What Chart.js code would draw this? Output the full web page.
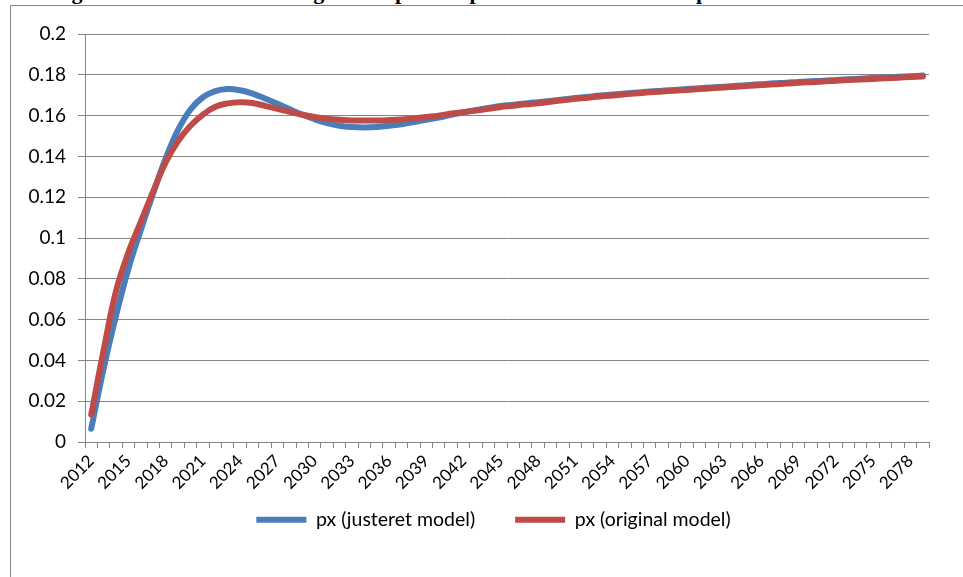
<!DOCTYPE html>
<html>
<head>
<meta charset="utf-8">
<script src="https://cdn.jsdelivr.net/npm/chart.js@4"></script>
<style>
  html, body { margin: 0; padding: 0; background: #fff; overflow: hidden; }
  body { width: 963px; height: 577px; position: relative; }
  #caption { position: absolute; left: 52px; top: -21px; font: bold 22px "Liberation Serif", serif; white-space: nowrap; color: #000; }
  #frame { position: absolute; left: 10px; top: 5px; width: 1000px; height: 620px; border: 1px solid #868686; }
  #px-chart { position: absolute; left: 0; top: 0; }
</style>
</head>
<body>
<div id="caption">Figur 6: Den totale udvikling i alt af px med px for hele den samlede periode</div>
<div id="frame"></div>
<canvas id="px-chart" width="963" height="577"></canvas>
<script>
// years 2012..2079, labels every 3rd year
const years = [];
for (let y = 2012; y <= 2079; y++) years.push(String(y));

const justeret = [
  0.0065, 0.036, 0.062, 0.085, 0.104, 0.122, 0.139, 0.153, 0.163, 0.169,
  0.172, 0.173, 0.1724, 0.1708, 0.1684, 0.1658, 0.1631, 0.1605, 0.1582, 0.1563,
  0.155, 0.1544, 0.1542, 0.1544, 0.155, 0.1558, 0.1568, 0.158, 0.159, 0.1604,
  0.1616, 0.1627, 0.1637, 0.1647, 0.1653, 0.1660, 0.1666, 0.1672, 0.1679, 0.1686,
  0.1692, 0.1698, 0.1703, 0.1708, 0.1713, 0.1718, 0.1722, 0.1726, 0.1730, 0.1734,
  0.1738, 0.1742, 0.1746, 0.1750, 0.1754, 0.1758, 0.1761, 0.1765, 0.1768, 0.1771,
  0.1775, 0.1778, 0.1781, 0.1784, 0.1787, 0.1790, 0.1793, 0.1796
];

const original = [
  0.0134, 0.045, 0.074, 0.093, 0.108, 0.123, 0.137, 0.1475, 0.155, 0.1605,
  0.1643, 0.166, 0.1666, 0.1662, 0.1648, 0.1633, 0.1619, 0.1604, 0.1593, 0.1585,
  0.158, 0.1576, 0.1576, 0.1576, 0.1578, 0.1581, 0.1586, 0.1593, 0.160, 0.161,
  0.1617, 0.1625, 0.1633, 0.1642, 0.1648, 0.1655, 0.1660, 0.1668, 0.1675, 0.1682,
  0.1688, 0.1694, 0.1699, 0.1704, 0.1709, 0.1714, 0.1718, 0.1722, 0.1726, 0.1730,
  0.1734, 0.1738, 0.1742, 0.1746, 0.1750, 0.1754, 0.1757, 0.1761, 0.1764, 0.1767,
  0.1771, 0.1774, 0.1777, 0.1780, 0.1783, 0.1786, 0.1789, 0.1792
];

const seriesNames = ['px (justeret model)', 'px (original model)'];

const gridGrey = '#868686';
const font = { family: 'Lato', size: 19 };
const xFont = { family: 'Lato', size: 17 };

// move the legend so it sits where the original had it
const legendPlace = {
    id: 'legendPlace',
    afterLayout(chart) {
        const lg = chart.legend;
        if (!lg) return;
        lg.left += 24; lg.right += 24;
        lg.top -= 20; lg.bottom = chart.height;
    }
};

const ctx = document.getElementById('px-chart').getContext('2d');

new Chart(ctx, {
    type: 'line',
    data: {
        labels: years,
        datasets: [{
            label: seriesNames[0],
            data: justeret,
            borderColor: '#4A7EBB',
            backgroundColor: '#4A7EBB',
            borderWidth: 6,
            order: 2
        }, {
            label: seriesNames[1],
            data: original,
            borderColor: '#BE4B48',
            backgroundColor: '#BE4B48',
            borderWidth: 6,
            order: 1
        }]
    },
    options: {
        responsive: false,
        animation: false,
        layout: {
            padding: { left: 10, right: 34, top: 34, bottom: 38 }
        },
        elements: {
            point: { radius: 0 },
            line: { tension: 0.4, fill: false, borderCapStyle: 'round', borderJoinStyle: 'round' }
        },
        scales: {
            x: {
                offset: true,
                grid: { offset: true, drawOnChartArea: false, drawTicks: true, tickLength: 6, color: gridGrey },
                border: { color: gridGrey },
                ticks: {
                    autoSkip: false,
                    maxRotation: 45,
                    minRotation: 45,
                    color: '#000',
                    font: xFont,
                    callback: (v, i) => i % 3 === 0 ? years[i] : ''
                },
                afterFit: s => { s.height = 48; }
            },
            y: {
                min: 0,
                max: 0.2,
                grid: { color: gridGrey, tickLength: 7 },
                border: { color: gridGrey },
                ticks: {
                    stepSize: 0.02,
                    padding: 12,
                    color: '#000',
                    font: font,
                    callback: v => String(Math.round(v * 100) / 100)
                },
                afterFit: s => { s.width = 75; }
            }
        },
        plugins: {
            legend: {
                position: 'bottom',
                maxHeight: 49,
                labels: {
                    boxWidth: 50,
                    boxHeight: 6,
                    padding: 40,
                    color: '#000',
                    font: { family: 'Lato', size: 19.5 },
                    sort: (a, b) => a.datasetIndex - b.datasetIndex,
                    generateLabels: chart => {
                        const items = Chart.defaults.plugins.legend.labels.generateLabels(chart);
                        items.forEach(it => { it.lineWidth = 0; });
                        return items;
                    }
                }
            },
            tooltip: { enabled: false }
        }
    },
    plugins: [legendPlace]
});
</script>
</body>
</html>
